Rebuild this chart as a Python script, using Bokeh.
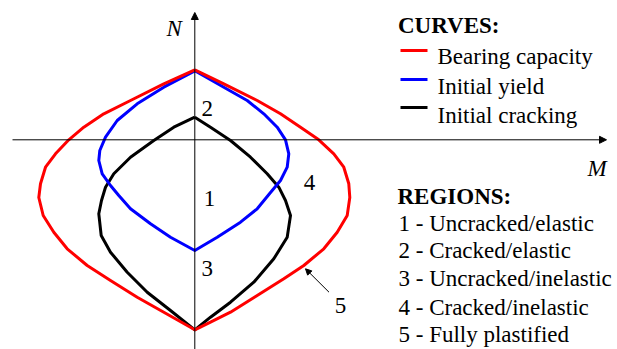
from bokeh.plotting import figure
from bokeh.models import Range1d, Label, Arrow, NormalHead
from bokeh.embed import file_html
from bokeh.resources import INLINE

# ---- data (M, N in normalised units) ----
bearing_M = [0, 0.29, 0.624, 0.857, 1.057, 1.24, 1.39, 1.49, 1.54, 1.55, 1.524, 1.424, 1.29, 1.09, 0.89, 0.624, 0.357, 0.157, 0,
             -0.31, -0.576, -0.843, -1.076, -1.276, -1.41, -1.516, -1.56, -1.543, -1.493, -1.393, -1.26, -1.11, -0.91, -0.643, -0.31, 0]
bearing_N = [0.70, 0.56, 0.393, 0.26, 0.126, 0, -0.14, -0.274, -0.44, -0.577, -0.757, -0.924, -1.09, -1.257, -1.39, -1.557, -1.724, -1.824, -1.90,
             -1.724, -1.574, -1.407, -1.257, -1.09, -0.924, -0.757, -0.577, -0.44, -0.274, -0.14, 0, 0.126, 0.26, 0.393, 0.56, 0.70]

yield_M = [0, 0.29, 0.524, 0.69, 0.824, 0.907, 0.94, 0.924, 0.857, 0.757, 0.624, 0.457, 0.224, 0,
           -0.243, -0.443, -0.643, -0.76, -0.843, -0.926, -0.96, -0.95, -0.893, -0.776, -0.576, -0.31, 0]
yield_N = [0.69, 0.526, 0.393, 0.26, 0.126, 0, -0.14, -0.274, -0.407, -0.527, -0.69, -0.824, -0.974, -1.107,
           -0.974, -0.84, -0.69, -0.557, -0.457, -0.34, -0.207, -0.107, 0.026, 0.193, 0.36, 0.526, 0.69]

crack_M = [0, 0.157, 0.357, 0.557, 0.724, 0.84, 0.907, 0.957, 0.924, 0.79, 0.59, 0.357, 0.157, 0,
           -0.243, -0.476, -0.676, -0.843, -0.936, -0.96, -0.933, -0.893, -0.81, -0.643, -0.41, -0.21, 0]
crack_N = [0.226, 0.126, -0.007, -0.174, -0.34, -0.474, -0.607, -0.757, -0.974, -1.19, -1.424, -1.624, -1.774, -1.90,
           -1.707, -1.524, -1.324, -1.124, -0.957, -0.74, -0.607, -0.474, -0.34, -0.174, -0.007, 0.126, 0.226]

curve_names = ["Bearing capacity", "Initial yield", "Initial cracking"]
curve_colors = ["#ff0000", "#0000ff", "#000000"]
region_labels = ["1", "2", "3", "4", "5"]
region_texts = ["1 - Uncracked/elastic", "2 - Cracked/elastic", "3 - Uncracked/inelastic",
                "4 - Cracked/inelastic", "5 - Fully plastified"]

# ---- layout helpers (picture pixel -> data) ----
W, H = 617, 349
OX, OY, S = 194.3, 139.3, 100.0   # picture position of origin, px per unit
def dx(X):
    return (X - OX) / S
def dy(Y):
    return (OY - Y) / S

p = figure(width=W, height=H, x_range=Range1d(dx(0), dx(W)), y_range=Range1d(dy(H), dy(0)),
           output_backend="svg", toolbar_location=None, x_axis_type=None, y_axis_type=None,
           min_border=0)
p.grid.visible = False
p.outline_line_color = None
p.background_fill_color = "white"

FONT = "Liberation Serif"
FS = "23px"

# axes
p.add_layout(Arrow(end=NormalHead(size=7, fill_color="black", line_color="black"),
                   x_start=dx(12), y_start=0, x_end=dx(606), y_end=0, line_width=1, line_color="black"))
p.add_layout(Arrow(end=NormalHead(size=7, fill_color="black", line_color="black"),
                   x_start=0, y_start=dy(352), x_end=0, y_end=dy(12), line_width=1, line_color="black"))

# curves
p.line(crack_M, crack_N, line_width=3, color=curve_colors[2], line_join="round")
p.line(yield_M, yield_N, line_width=3, color=curve_colors[1], line_join="round")
p.line(bearing_M, bearing_N, line_width=3, color=curve_colors[0], line_join="round")

def lab(text, X, Y, size=FS, style="normal", align="left"):
    p.add_layout(Label(x=dx(X), y=dy(Y), text=text, text_font=FONT, text_font_size=size,
                       text_font_style=style, text_align=align, text_baseline="alphabetic",
                       text_color="black"))

# axis names
lab("N", 166, 28, style="italic")
lab("M", 587, 168, style="italic")

# region numbers in the plot
for t, X, Y in zip(region_labels, [209, 206.7, 206.7, 309, 340], [198, 108.3, 268, 182, 305]):
    lab(t, X, Y, align="center")

# arrow to region 5
p.add_layout(Arrow(end=NormalHead(size=6, fill_color="black", line_color="black"),
                   x_start=dx(328.5), y_start=dy(291.7), x_end=dx(305), y_end=dy(268.3),
                   line_width=1, line_color="black"))

# curves legend
lab("CURVES:", 397.5, 25, style="bold")
for i, (name, col) in enumerate(zip(curve_names, curve_colors)):
    ly = [50, 79, 107][i]
    p.segment(x0=[dx(400)], y0=[dy(ly)], x1=[dx(427)], y1=[dy(ly)], line_width=3, color=col)
    lab(name, 437, [55.5, 86, 115][i])

# regions legend
lab("REGIONS:", 397, 196, style="bold")
for i, t in enumerate(region_texts):
    lab(t, 398, [223, 250, 278, 307, 334][i])

open("out.html", "w").write(file_html(p, INLINE))
